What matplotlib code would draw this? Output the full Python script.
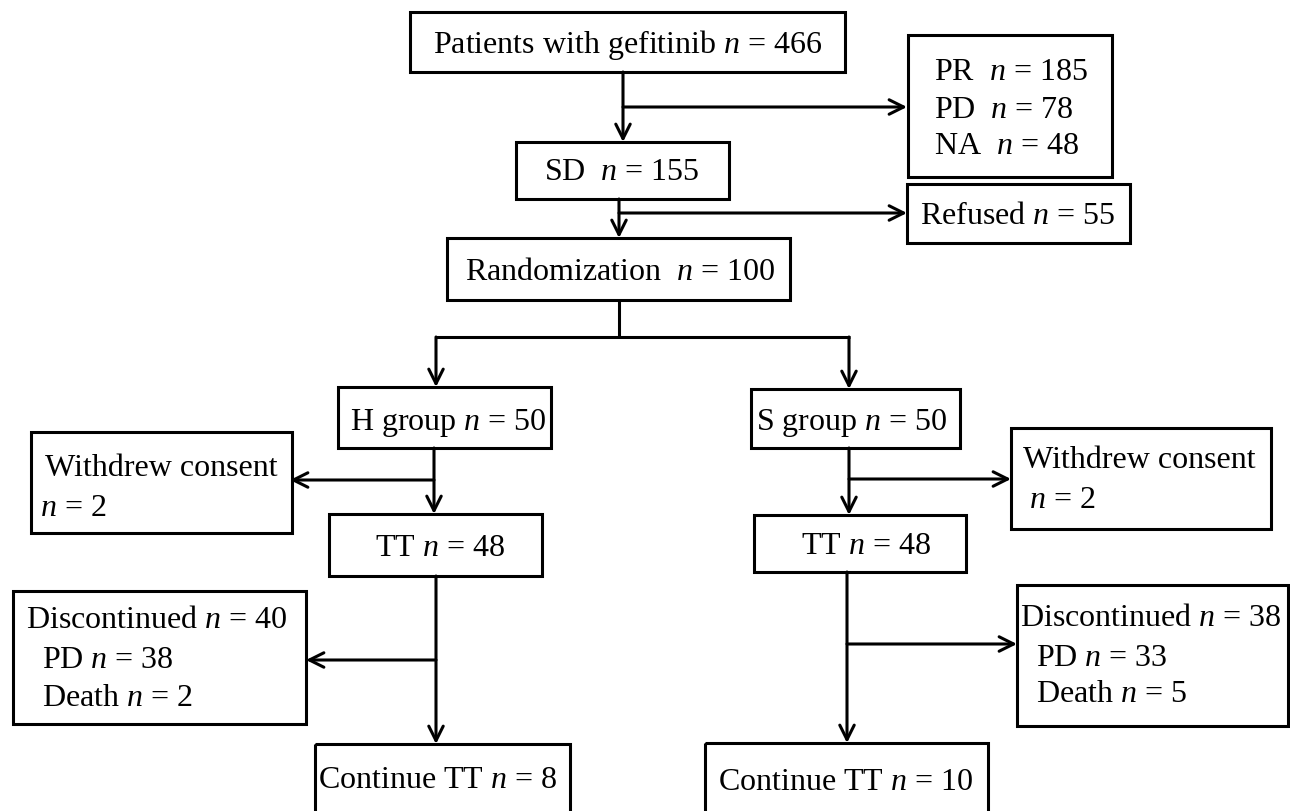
import matplotlib
matplotlib.use("Agg")
import matplotlib.pyplot as plt
from matplotlib.patches import Rectangle

plt.rcParams['font.family'] = 'Liberation Serif'
plt.rcParams['mathtext.fontset'] = 'custom'
plt.rcParams['mathtext.rm'] = 'Liberation Serif'
plt.rcParams['mathtext.it'] = 'Liberation Serif:italic'

# counts
total_n = 466
excl_labels = ['PR', 'PD', 'NA']
excl_n = [185, 78, 48]
sd_n = 155
refused_n = 55
rand_n = 100
groups = ['H', 'S']
group_n = [50, 50]
withdrew_n = [2, 2]
tt_n = [48, 48]
disc_n = [40, 38]
disc_pd = [38, 33]
disc_death = [2, 5]
cont_n = [8, 10]

lw = 2.2
fs = 23

fig = plt.figure(figsize=(12.9, 8.11), dpi=100)
ax = fig.add_axes([0, 0, 1, 1])
ax.set_xlim(0, 1290)
ax.set_ylim(811, 0)
ax.axis('off')


def box(x0, y0, x1, y1):
    ax.add_patch(Rectangle((x0, y0), x1 - x0, y1 - y0, fill=False,
                           ec='black', lw=lw, clip_on=False))


def line(xs, ys):
    ax.plot(xs, ys, color='black', lw=lw, solid_capstyle='butt')


def arrow(x0, y0, x1, y1):
    ax.annotate('', xy=(x1, y1), xytext=(x0, y0),
                arrowprops=dict(arrowstyle='->', lw=lw, color='black',
                                mutation_scale=26, shrinkA=0, shrinkB=0))


def txt(x, y, s, ha='center'):
    # small nudge down so the glyphs sit like in the original
    ax.text(x, y + 3, s, ha=ha, va='center', fontsize=fs)


# top part
box(410, 12, 845, 72)
txt(628, 42, f'Patients with gefitinib $n$ = {total_n}')
arrow(623, 72, 623, 142)
arrow(623, 107, 907, 107)

box(908, 35, 1112, 177)
for i, (lab, n) in enumerate(zip(excl_labels, excl_n)):
    txt(934, [69, 107, 143][i], f'{lab}  $n$ = {n}', ha='left')

box(516, 142, 729, 199)
txt(622, 170, f'SD  $n$ = {sd_n}')
arrow(619, 199, 619, 238)
arrow(619, 213, 907, 213)

box(907, 184, 1130, 243)
txt(920, 213, f'Refused $n$ = {refused_n}', ha='left')

box(447, 238, 790, 300)
txt(620, 270, f'Randomization  $n$ = {rand_n}')

line([619, 619], [300, 337])
line([436, 850], [337, 337])
arrow(436, 337, 436, 387)
arrow(849, 337, 849, 389)

# H group (left)
box(338, 387, 551, 448)
txt(448, 420, f'{groups[0]} group $n$ = {group_n[0]}')
arrow(434, 448, 434, 514)
arrow(434, 480, 290, 480)
box(31, 432, 292, 533)
txt(45, 466, 'Withdrew consent', ha='left')
txt(40, 505, f'$n$ = {withdrew_n[0]}', ha='left')

box(329, 514, 542, 576)
txt(440, 545, f'TT $n$ = {tt_n[0]}')
arrow(436, 576, 436, 744)
arrow(436, 660, 306, 660)

box(13, 591, 306, 724)
txt(26, 618, f'Discontinued $n$ = {disc_n[0]}', ha='left')
txt(42, 657, f'PD $n$ = {disc_pd[0]}', ha='left')
txt(42, 695, f'Death $n$ = {disc_death[0]}', ha='left')

box(315, 744, 570, 830)
txt(318, 778, f'Continue TT $n$ = {cont_n[0]}', ha='left')

# S group (right)
box(751, 389, 960, 448)
txt(852, 420, f'{groups[1]} group $n$ = {group_n[1]}')
arrow(849, 448, 849, 515)
arrow(849, 479, 1011, 479)
box(1011, 428, 1271, 529)
txt(1023, 458, 'Withdrew consent', ha='left')
txt(1029, 497, f'$n$ = {withdrew_n[1]}', ha='left')

box(754, 515, 966, 572)
txt(866, 543, f'TT $n$ = {tt_n[1]}')
arrow(847, 572, 847, 743)
arrow(847, 644, 1017, 644)

box(1017, 585, 1288, 726)
txt(1020, 616, f'Discontinued $n$ = {disc_n[1]}', ha='left')
txt(1036, 655, f'PD $n$ = {disc_pd[1]}', ha='left')
txt(1036, 692, f'Death $n$ = {disc_death[1]}', ha='left')

box(705, 743, 988, 830)
txt(846, 780, f'Continue TT $n$ = {cont_n[1]}')

fig.savefig('out.png', dpi=100)
